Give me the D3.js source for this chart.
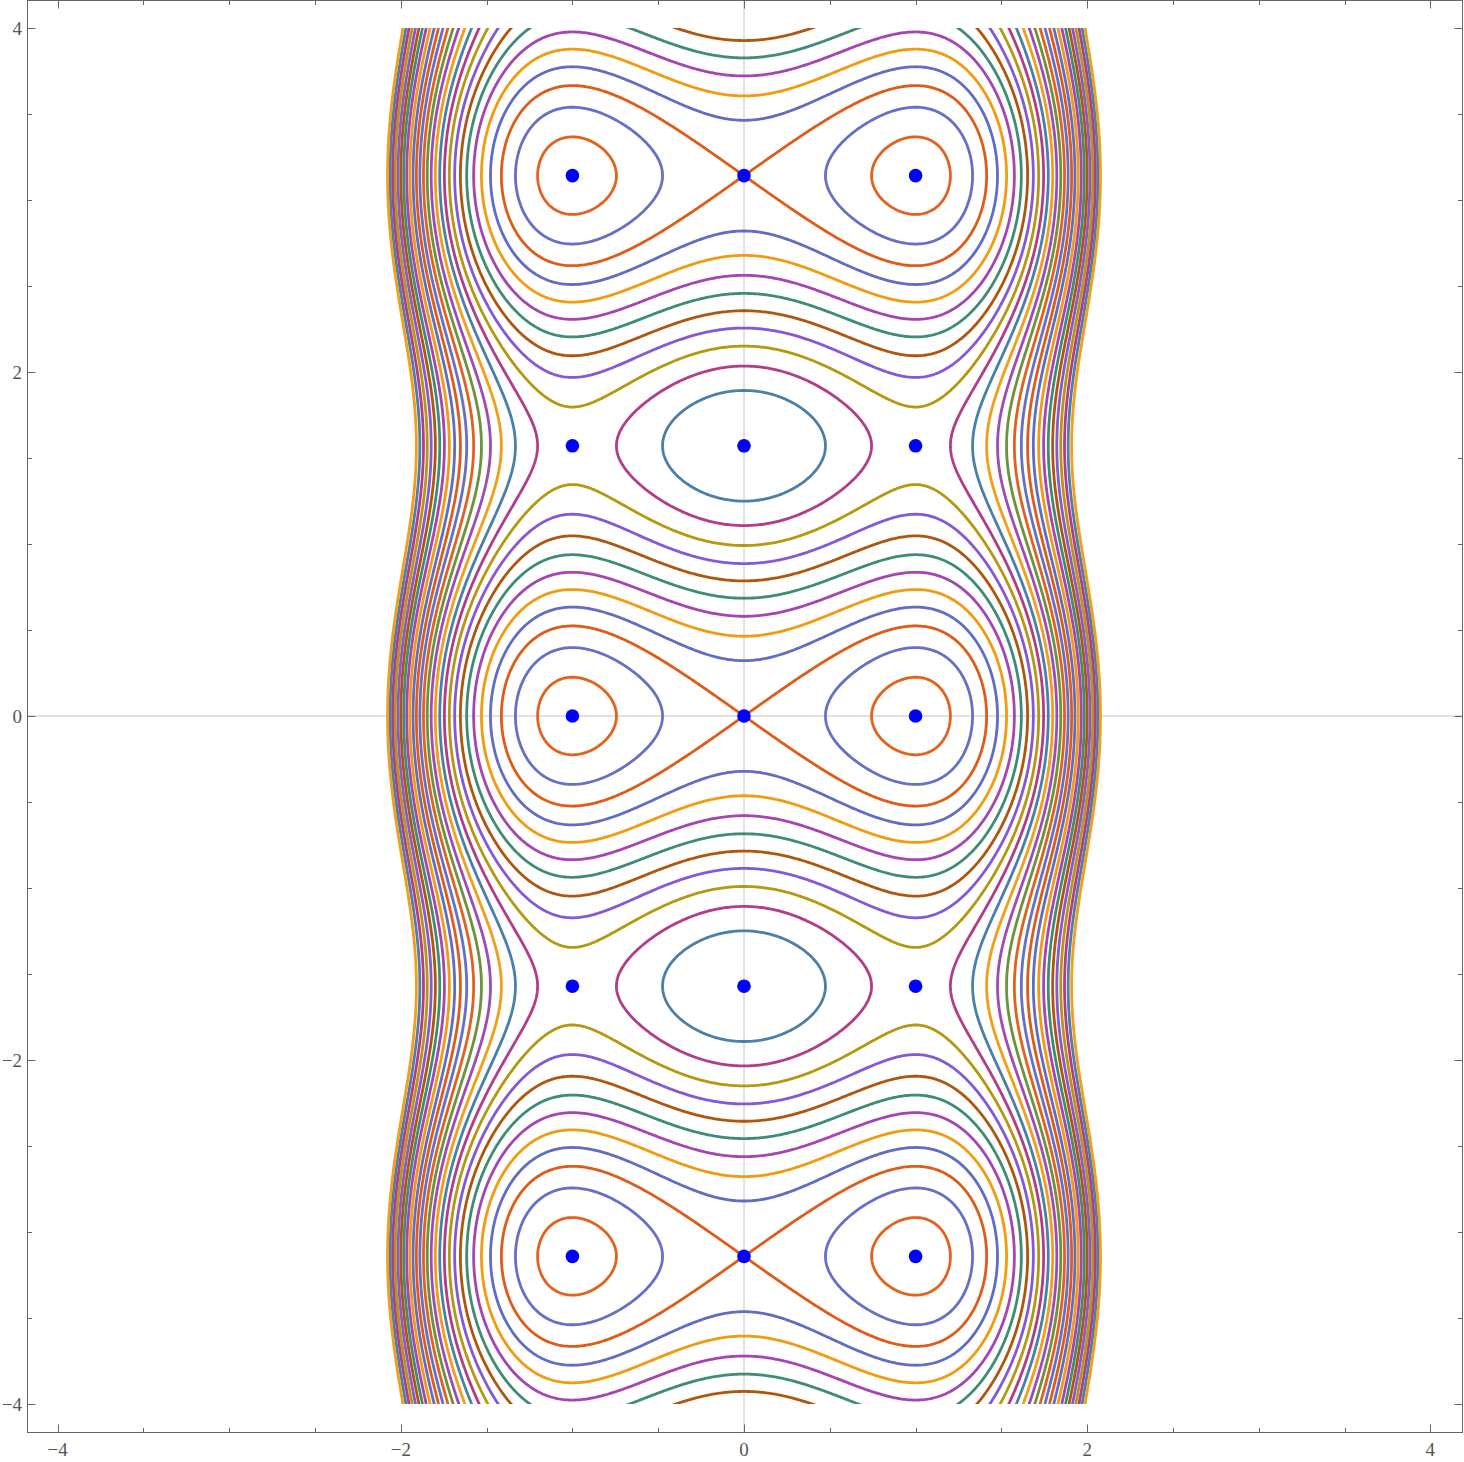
<!DOCTYPE html>
<html><head><meta charset="utf-8">
<script src="https://cdn.jsdelivr.net/npm/d3@7"></script>
<style>body{margin:0;background:#fff}svg{display:block}</style>
</head><body><svg id="chart" width="1464" height="1462"></svg>
<script>
// Contour levels of f(x,y) = (x^2-1)^2 - 2 cos(2y)
const contourLevels = [-1.8,-1.4,-1.0,-0.6,-0.2,0.2,0.6,1.0,1.4,1.8,2.2,2.6,3.0,3.4,3.8,4.2,4.6,5.0,5.4,5.8,6.2,6.6,7.0,7.4,7.8,8.2,8.6,9.0];
const contourColors = ["#E3611B","#6470C6","#E05B17","#5F6DC2","#F29A10","#A445B2","#3F8C74","#B0560C","#8458D6","#B5980F","#B23C88","#4A7FAA","#F49D18","#A04BB4","#6E913C"];
const pointX = [-1, 0, 1];
const pointY = [-Math.PI, -Math.PI/2, 0, Math.PI/2, Math.PI];
const majorTicks = [-4, -2, 0, 2, 4];
const tickLabels = ["\u22124", "\u22122", "0", "2", "4"];
const minorTicks = [-3.5,-3,-2.5,-1.5,-1,-0.5,0.5,1,1.5,2.5,3,3.5];
const plotDomain = [-4, 4];

function potential(x, y) { return (x*x - 1)*(x*x - 1) - 2*Math.cos(2*y); }

const svg = d3.select("#chart");
const frame = {left: 27.5, right: 1462.5, top: 0.5, bottom: 1432.5};
const sx = d3.scaleLinear().domain(plotDomain).range([57.7, 1430.3]);
const sy = d3.scaleLinear().domain(plotDomain).range([1404, 28]);

svg.append("defs").append("clipPath").attr("id","clip")
  .append("rect").attr("x", sx(-4)).attr("y", sy(4))
  .attr("width", sx(4)-sx(-4)).attr("height", sy(-4)-sy(4));

svg.append("line").attr("x1", frame.left).attr("x2", frame.right)
  .attr("y1", sy(0)).attr("y2", sy(0)).attr("stroke","#c4c4c4").attr("stroke-width",1);
svg.append("line").attr("y1", frame.top).attr("y2", frame.bottom)
  .attr("x1", sx(0)).attr("x2", sx(0)).attr("stroke","#c4c4c4").attr("stroke-width",1);

const step = 0.01, x0 = -2.6, y0 = -4.1;
const nx = Math.round(5.2/step) + 1, ny = Math.round(8.2/step) + 1;
const values = new Float64Array(nx*ny);
for (let j = 0; j < ny; j++) {
  const y = y0 + j*step;
  for (let i = 0; i < nx; i++) {
    const x = x0 + i*step;
    values[j*nx + i] = -potential(x, y);
  }
}
const gen = d3.contours().size([nx, ny]).thresholds(contourLevels.map(v => -v));
const contours = gen(values);
contours.forEach(c => {
  const lvl = -c.value;
  let best = 0, bd = Infinity;
  contourLevels.forEach((L, k) => { const dd = Math.abs(L - lvl); if (dd < bd) { bd = dd; best = k; } });
  c.levelIndex = best;
});
contours.sort((a, b) => a.levelIndex - b.levelIndex);
const proj = d3.geoTransform({
  point: function(px, py) {
    this.stream.point(sx(x0 + (px - 0.5)*step), sy(y0 + (py - 0.5)*step));
  }
});
const path = d3.geoPath(proj);
svg.append("g").attr("clip-path","url(#clip)")
  .selectAll("path").data(contours).join("path")
  .attr("d", path)
  .attr("fill","none")
  .attr("stroke", d => contourColors[d.levelIndex % contourColors.length])
  .attr("stroke-width", 2.8)
  .attr("stroke-linejoin","round");

const pts = [];
pointY.forEach(y => pointX.forEach(x => pts.push([x,y])));
svg.append("g").selectAll("circle").data(pts).join("circle")
  .attr("cx", d => sx(d[0])).attr("cy", d => sy(d[1])).attr("r", 6.8)
  .attr("fill", "#0000FF");

svg.append("rect").attr("x", frame.left).attr("y", frame.top)
  .attr("width", frame.right - frame.left).attr("height", frame.bottom - frame.top)
  .attr("fill","none").attr("stroke","#666").attr("stroke-width",1);

const tg = svg.append("g").attr("stroke","#666").attr("stroke-width",1);
function ticks(list, len) {
  list.forEach(v => {
    const X = Math.round(sx(v)) + 0.5, Y = Math.round(sy(v)) + 0.5;
    tg.append("line").attr("x1",X).attr("x2",X).attr("y1",frame.bottom).attr("y2",frame.bottom-len);
    tg.append("line").attr("x1",X).attr("x2",X).attr("y1",frame.top).attr("y2",frame.top+len);
    tg.append("line").attr("y1",Y).attr("y2",Y).attr("x1",frame.left).attr("x2",frame.left+len);
    tg.append("line").attr("y1",Y).attr("y2",Y).attr("x1",frame.right).attr("x2",frame.right-len);
  });
}
ticks(majorTicks, 8);
ticks(minorTicks, 4.5);

const lab = svg.append("g").attr("font-family","'Liberation Serif', 'DejaVu Serif', serif")
  .attr("font-size", 19).attr("fill","#555");
majorTicks.forEach((v,i) => {
  lab.append("text").attr("x", sx(v)).attr("y", 1456).attr("text-anchor","middle").text(tickLabels[i]);
  lab.append("text").attr("x", 22).attr("y", sy(v)).attr("dy","0.35em").attr("text-anchor","end").text(tickLabels[i]);
});
</script>
</body></html>
